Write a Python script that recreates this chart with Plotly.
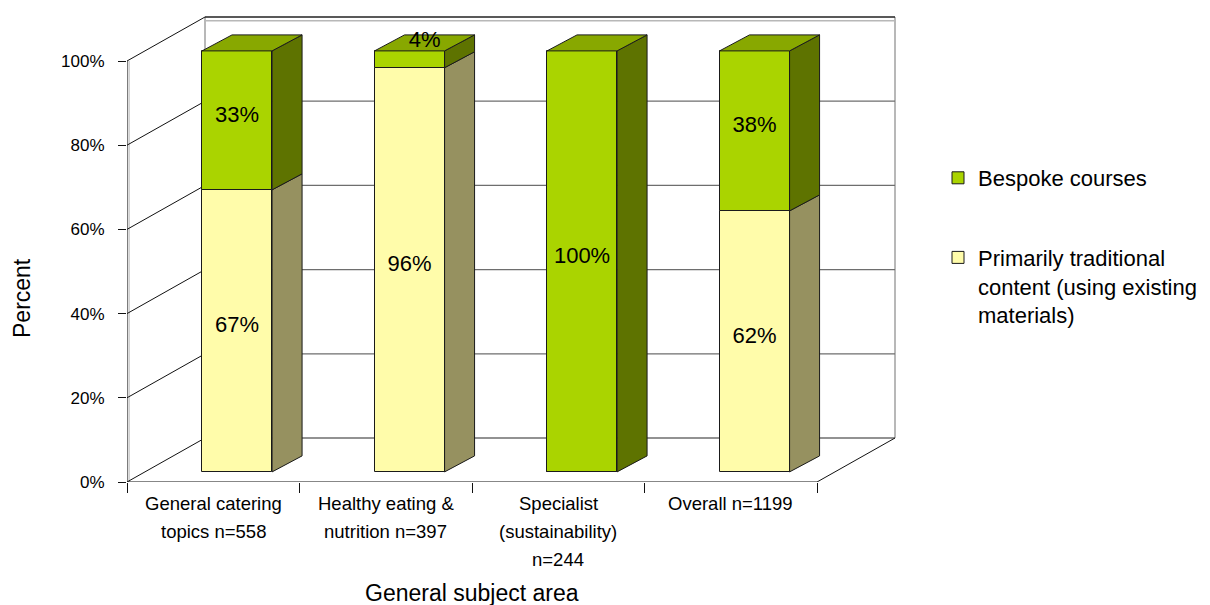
import plotly.graph_objects as go

# ---------------- data ----------------
categories = [
    "General catering<br>topics n=558",
    "Healthy eating &<br>nutrition n=397",
    "Specialist<br>(sustainability)<br>n=244",
    "Overall n=1199",
]
traditional = [67, 96, 0, 62]
bespoke = [33, 4, 100, 38]
name_traditional = "Primarily traditional<br>content (using existing<br>materials)"
name_bespoke = "Bespoke courses"
y_ticks = [0, 20, 40, 60, 80, 100]
y_tick_labels = ["0%", "20%", "40%", "60%", "80%", "100%"]
x_title = "General subject area"
y_title = "Percent"

# ---------------- style / geometry ----------------
FONT = "Liberation Sans, Arial, sans-serif"
W, H = 1210, 605
ML, MR, MT, MB = 127, 314, 10, 123
PX_CAT = 172.5          # pixels per category
PX_PCT = 4.21           # pixels per percent
plot_w = W - ML - MR
plot_h = H - MT - MB
x_range = [-0.5, -0.5 + plot_w / PX_CAT]
y_range = [0, plot_h / PX_PCT]

WDX, WDY = 78 / PX_CAT, 44 / PX_PCT     # wall depth
BDX, BDY = 30 / PX_CAT, 16 / PX_PCT     # bar depth
BAR_OFF, BAR_W, BAR_BASE = 0.138, 0.406, 2.4

C_TRAD_FRONT, C_TRAD_SIDE, C_TRAD_TOP = "#FFFCAA", "#969160", "#CFCB86"
C_BES_FRONT, C_BES_SIDE, C_BES_TOP = "#AAD400", "#5E7300", "#88A800"
EDGE = "#1a1a1a"

n = len(categories)
xs = list(range(n))
x_left_axis = -0.5
x_right_axis = n - 0.5

fig = go.Figure()

# ---------------- walls / gridlines (shapes, layer below) ----------------
shapes = []
def line(x0, y0, x1, y1, color, width=1):
    shapes.append(dict(type="line", xref="x", yref="y", x0=x0, y0=y0, x1=x1, y1=y1,
                       line=dict(color=color, width=width), layer="below"))

bx0 = x_left_axis + WDX
bx1 = x_right_axis + WDX
# inner (gray) wall edges
line(x_left_axis + 0.012, 0, x_left_axis + 0.012, y_ticks[-1], "#b0b0b0", 1)
line(bx0, WDY, bx0, y_ticks[-1] + WDY, "#a0a0a0", 1.5)
line(bx1, WDY, bx1, y_ticks[-1] + WDY, "#a0a0a0", 1.5)
line(bx0, y_ticks[-1] + WDY - 0.9, bx1, y_ticks[-1] + WDY - 0.9, "#b8b8b8", 1.5)
line(x_left_axis, -0.6, x_right_axis, -0.6, "#b0b0b0", 1)
for v in y_ticks:
    # back wall
    col = "#222222" if v == y_ticks[-1] else "#6e6e6e"
    line(bx0, v + WDY, bx1, v + WDY, col, 1.3)
    # side wall diagonals
    line(x_left_axis, v, bx0, v + WDY, "#111111", 1)
# front axis line and floor
line(x_left_axis, 0, x_left_axis, y_ticks[-1], "#222222", 1.2)
line(x_left_axis - 0.05, 0, x_right_axis, 0, "#111111", 1.2)
line(x_right_axis, 0, bx1, WDY, "#111111", 1)

# ---------------- bars (front faces) ----------------
bar_x = [x + BAR_OFF for x in xs]
trad_base = [BAR_BASE] * n
bes_base = [BAR_BASE + t for t in traditional]

fig.add_trace(go.Bar(
    x=bar_x, y=bespoke, base=bes_base, width=BAR_W, name=name_bespoke,
    marker=dict(color=C_BES_FRONT, line=dict(color=EDGE, width=1)),
    legendgroup="b", legendrank=1, hoverinfo="skip"))
fig.add_trace(go.Bar(
    x=bar_x, y=traditional, base=trad_base, width=BAR_W, name=name_traditional,
    marker=dict(color=C_TRAD_FRONT, line=dict(color=EDGE, width=1)),
    legendgroup="t", legendrank=2, hoverinfo="skip"))

# ---------------- side and top faces ----------------
def side_polys(values, bases):
    px, py = [], []
    for i, (v, b) in enumerate(zip(values, bases)):
        if v <= 0:
            continue
        xr = bar_x[i] + BAR_W / 2
        y0, y1 = b, b + v
        px += [xr, xr + BDX, xr + BDX, xr, xr, None]
        py += [y0, y0 + BDY, y1 + BDY, y1, y0, None]
    return px, py

for vals, bases, col in [(traditional, trad_base, C_TRAD_SIDE), (bespoke, bes_base, C_BES_SIDE)]:
    sx, sy = side_polys(vals, bases)
    fig.add_trace(go.Scatter(x=sx, y=sy, mode="lines", fill="toself", fillcolor=col,
                             line=dict(color=EDGE, width=1), showlegend=False, hoverinfo="skip"))

top_b_x, top_b_y, top_t_x, top_t_y = [], [], [], []
for i in range(n):
    top = BAR_BASE + traditional[i] + bespoke[i]
    xl = bar_x[i] - BAR_W / 2
    xr = bar_x[i] + BAR_W / 2
    poly_x = [xl, xl + BDX, xr + BDX, xr, xl, None]
    poly_y = [top, top + BDY, top + BDY, top, top, None]
    if bespoke[i] > 0:
        top_b_x += poly_x; top_b_y += poly_y
    else:
        top_t_x += poly_x; top_t_y += poly_y
for px_, py_, col in [(top_b_x, top_b_y, C_BES_TOP), (top_t_x, top_t_y, C_TRAD_TOP)]:
    if px_:
        fig.add_trace(go.Scatter(x=px_, y=py_, mode="lines", fill="toself", fillcolor=col,
                                 line=dict(color=EDGE, width=1), showlegend=False, hoverinfo="skip"))

# ---------------- data labels ----------------
lx, ly, lt = [], [], []
for i in range(n):
    cum = 0
    for v in (traditional[i], bespoke[i]):
        if v > 0:
            if v >= 8:
                lx.append(bar_x[i])
                ly.append(BAR_BASE + cum + v / 2 + 1.0)
            else:
                lx.append(bar_x[i] + BDX / 2)
                ly.append(BAR_BASE + cum + v + BDY * 0.6)
            lt.append(f"{v}%")
        cum += v
fig.add_trace(go.Scatter(x=lx, y=ly, text=lt, mode="text", showlegend=False, hoverinfo="skip",
                         textfont=dict(family=FONT, size=22, color="#000000"), cliponaxis=False))

# ---------------- annotations: category labels, titles ----------------
annotations = []
for i, cat in enumerate(categories):
    for j, ln in enumerate(cat.split("<br>")):
        annotations.append(dict(x=i, y=0, xref="x", yref="y", text=ln, showarrow=False,
                                xanchor="center", yanchor="middle", yshift=-(21 + 28 * j),
                                font=dict(family=FONT, size=18.5, color="#000000")))
annotations.append(dict(x=(n - 1) / 2, y=(482 - 593) / plot_h + (482 - (H - MB)) / plot_h,
                        xref="x", yref="paper", text=x_title, showarrow=False,
                        xanchor="center", yanchor="middle",
                        font=dict(family=FONT, size=23, color="#000000")))
annotations.append(dict(x=(22 - ML) / plot_w, y=(482 - 298) / plot_h, xref="paper", yref="paper",
                        text=y_title, showarrow=False, textangle=-90,
                        xanchor="center", yanchor="middle",
                        font=dict(family=FONT, size=23, color="#000000")))

fig.update_layout(
    width=W, height=H,
    margin=dict(l=ML, r=MR, t=MT, b=MB, autoexpand=False),
    paper_bgcolor="white", plot_bgcolor="white",
    barmode="overlay", bargap=0,
    font=dict(family=FONT, color="#000000"),
    shapes=shapes, annotations=annotations,
    showlegend=True,
    legend=dict(x=(938 - ML) / plot_w, y=(482 - 157) / plot_h, xanchor="left", yanchor="top",
                font=dict(family=FONT, size=22, color="#000000"),
                traceorder="grouped", tracegroupgap=48, valign="top",
                bgcolor="rgba(0,0,0,0)"),
    xaxis=dict(range=x_range, showgrid=False, zeroline=False, showline=False,
               tickmode="array", tickvals=[x - 0.5 for x in range(n + 1)],
               ticktext=[""] * (n + 1), ticks="outside", ticklen=10, tickcolor="#111111",
               fixedrange=True),
    yaxis=dict(range=y_range, showgrid=False, zeroline=False, showline=False,
               tickmode="array", tickvals=y_ticks, ticktext=y_tick_labels,
               ticks="outside", ticklen=8, tickcolor="#111111", ticklabelstandoff=10,
               tickfont=dict(family=FONT, size=17, color="#000000"), fixedrange=True),
)

fig.write_html("out.html")
